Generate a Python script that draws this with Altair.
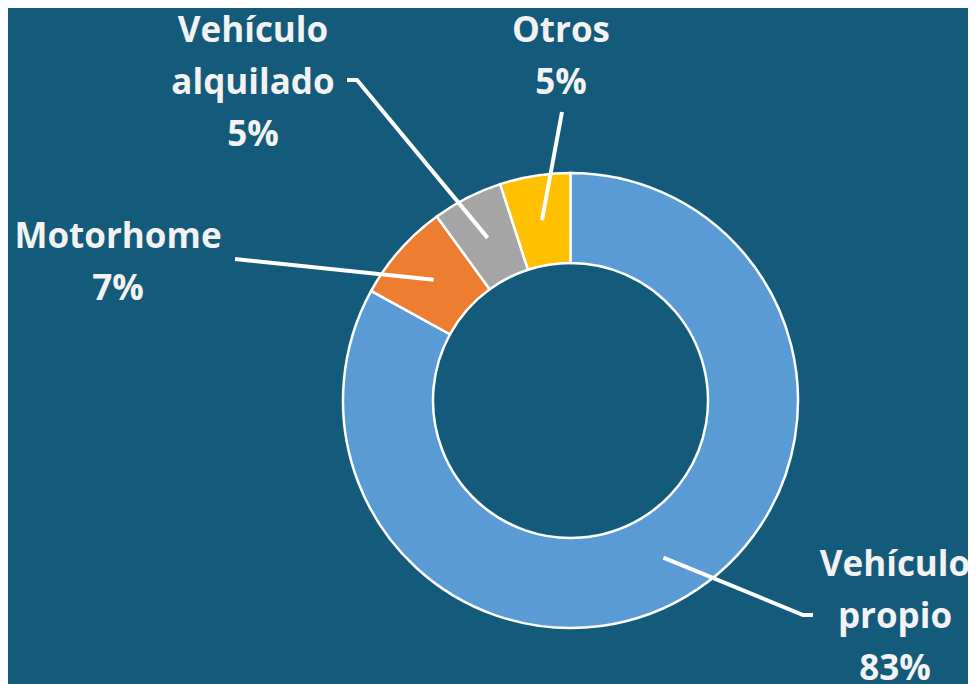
import math
import altair as alt
import pandas as pd

# ---- data ----
categories = ["Vehículo propio", "Motorhome", "Vehículo alquilado", "Otros"]
values = [83, 7, 5, 5]
labels = ["Vehículo\npropio\n83%", "Motorhome\n7%", "Vehículo\nalquilado\n5%", "Otros\n5%"]
colors = ["#5B9BD5", "#ED7D31", "#A5A5A5", "#FFC000"]

# ---- layout (pixels, chart coordinates; first line centre of each label) ----
W, H = 960, 676
CX, CY = 562.5, 392.5
R_IN, R_OUT = 137.5, 227.5
label_xy = [(887, 557), (110, 229), (245, 23), (553, 23)]
leader_tail = [[(795, 607), (805, 607)], [(227, 251)], [(349, 72), (339, 72)], [(554, 104)]]
BG = "#145A7A"
TXT = "#F2F2F2"

df = pd.DataFrame({"cat": categories, "value": values, "order": list(range(len(values)))})

# leader lines start at the slice's mid angle, middle of the ring
total = sum(values)
rows = []
cum = 0
for i, v in enumerate(values):
    mid = (cum + v / 2) / total * 2 * math.pi
    cum += v
    r = (R_IN + R_OUT) / 2
    sx = CX + r * math.sin(mid)
    sy = CY - r * math.cos(mid)
    pts = [(sx, sy)] + leader_tail[i]
    for k, (px, py) in enumerate(pts):
        rows.append({"cat": categories[i], "k": k, "px": px, "py": py})
lines_df = pd.DataFrame(rows)

text_df = pd.DataFrame({
    "cat": categories,
    "label": labels,
    "px": [p[0] for p in label_xy],
    "py": [p[1] for p in label_xy],
})

arc = alt.Chart(df).mark_arc(
    innerRadius=R_IN, outerRadius=R_OUT, stroke="white", strokeWidth=2.5,
    x=CX, y=CY,
).encode(
    theta=alt.Theta("value:Q", stack=True),
    order=alt.Order("order:Q"),
    color=alt.Color("cat:N", scale=alt.Scale(domain=categories, range=colors), legend=None),
)

leaders = alt.Chart(lines_df).mark_line(color="white", strokeWidth=4, strokeCap="butt").encode(
    x=alt.X("px:Q", scale=None, axis=None),
    y=alt.Y("py:Q", scale=None, axis=None),
    detail="cat:N",
    order="k:Q",
)

texts = alt.Chart(text_df).mark_text(
    font="Open Sans", fontWeight="bold", fontSize=35, color=TXT,
    lineBreak="\n", lineHeight=52, align="center", baseline="middle",
).encode(
    x=alt.X("px:Q", scale=None, axis=None),
    y=alt.Y("py:Q", scale=None, axis=None),
    text="label:N",
)

chart = alt.layer(arc, leaders, texts).properties(
    width=W, height=H, padding=0, autosize="none", background=BG,
).configure_view(stroke=None)

chart.save("out.html", embed_options={"renderer": "svg", "actions": False})
